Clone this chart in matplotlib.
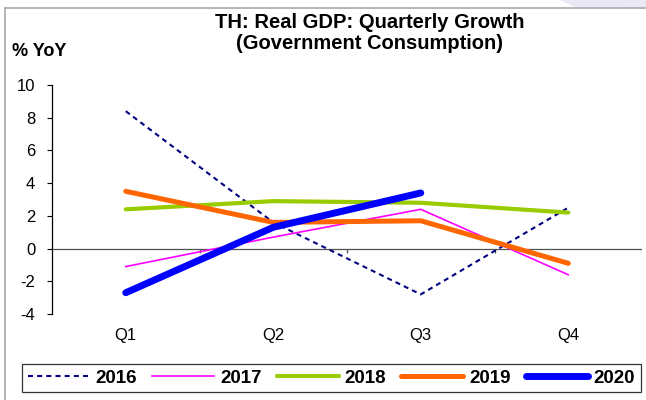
import matplotlib
matplotlib.use('Agg')
import matplotlib.pyplot as plt
from matplotlib.lines import Line2D
from matplotlib.patches import Polygon

plt.rcParams['font.family'] = ['Liberation Sans', 'DejaVu Sans']

# Thai real GDP, government consumption, % YoY by quarter
quarters = ['Q1', 'Q2', 'Q3', 'Q4']
g2016 = [8.4, 1.6, -2.8, 2.5]
g2017 = [-1.1, 0.7, 2.4, -1.6]
g2018 = [2.4, 2.9, 2.8, 2.2]
g2019 = [3.5, 1.6, 1.7, -0.9]
g2020 = [-2.7, 1.3, 3.4]
y_ticks = [-4, -2, 0, 2, 4, 6, 8, 10]

W, H = 646, 400
fig = plt.figure(figsize=(W / 100, H / 100), dpi=100)

# thin grey frame on the top/left and a faint tint in the corner
fig.add_artist(Line2D([4.5 / W, 4.5 / W], [0, 1 - 8 / H], color='#a8a8a8', lw=1.2))
fig.add_artist(Line2D([4.5 / W, 1], [1 - 8 / H, 1 - 8 / H], color='#a8a8a8', lw=1.2))
fig.add_artist(Polygon([(560 / W, 1), (1, 1), (1, 1 - 8 / H), (575 / W, 1 - 7 / H)],
                       closed=True, color='#e9e9f5', lw=0))

ax = fig.add_axes([52 / W, 1 - 314 / H, 590 / W, 229 / H])
x = list(range(len(quarters)))

ax.plot(x, g2016, color='#000080', lw=1.5, ls=(0, (2.4, 2.0)), label='2016')
ax.plot(x, g2017, color='#ff00ff', lw=1.2, label='2017')
ax.plot(x, g2018, color='#99cc00', lw=3.0, solid_capstyle='round', label='2018')
ax.plot(x, g2019, color='#ff6600', lw=3.6, solid_capstyle='round', label='2019')
ax.plot(x[:len(g2020)], g2020, color='#0000ff', lw=5.0, solid_capstyle='round',
        solid_joinstyle='round', label='2020')

ax.set_xlim(-0.5, len(quarters) - 0.5)
ax.set_ylim(-4, 10)
ax.set_yticks(y_ticks)
ax.set_yticklabels([str(v) for v in y_ticks], fontsize=12)
ax.set_xticks(x)
ax.set_xticklabels(quarters, fontsize=12)
ax.tick_params(axis='y', direction='out', length=3.6, width=0.8, pad=8.5)
ax.tick_params(axis='x', length=0, pad=10)

for side in ['top', 'right', 'bottom']:
    ax.spines[side].set_visible(False)
ax.spines['left'].set_linewidth(0.9)

# zero line with category separators
ax.axhline(0, color='#505050', lw=0.9, zorder=1)
ax.vlines([i + 0.5 for i in x], -0.3, 0, color='#505050', lw=0.9, zorder=1)

fig.text(370 / W, 1 - 33 / H, 'TH: Real GDP: Quarterly Growth\n(Government Consumption)',
         ha='center', va='center', fontsize=14.5, fontweight='bold', linespacing=1.1)
fig.text(12 / W, 1 - 52 / H, '% YoY', ha='left', va='center', fontsize=13, fontweight='bold')

leg = fig.legend(loc='center', bbox_to_anchor=(331.5 / W, 1 - 378 / H), ncol=5,
                 prop={'size': 13.5, 'weight': 'bold'}, frameon=True, fancybox=False,
                 edgecolor='#000000', handlelength=3.3, handletextpad=0.32,
                 columnspacing=0.8, borderpad=0.3, borderaxespad=0)
leg.get_frame().set_linewidth(0.9)

plt.savefig('out.png', dpi=100)
